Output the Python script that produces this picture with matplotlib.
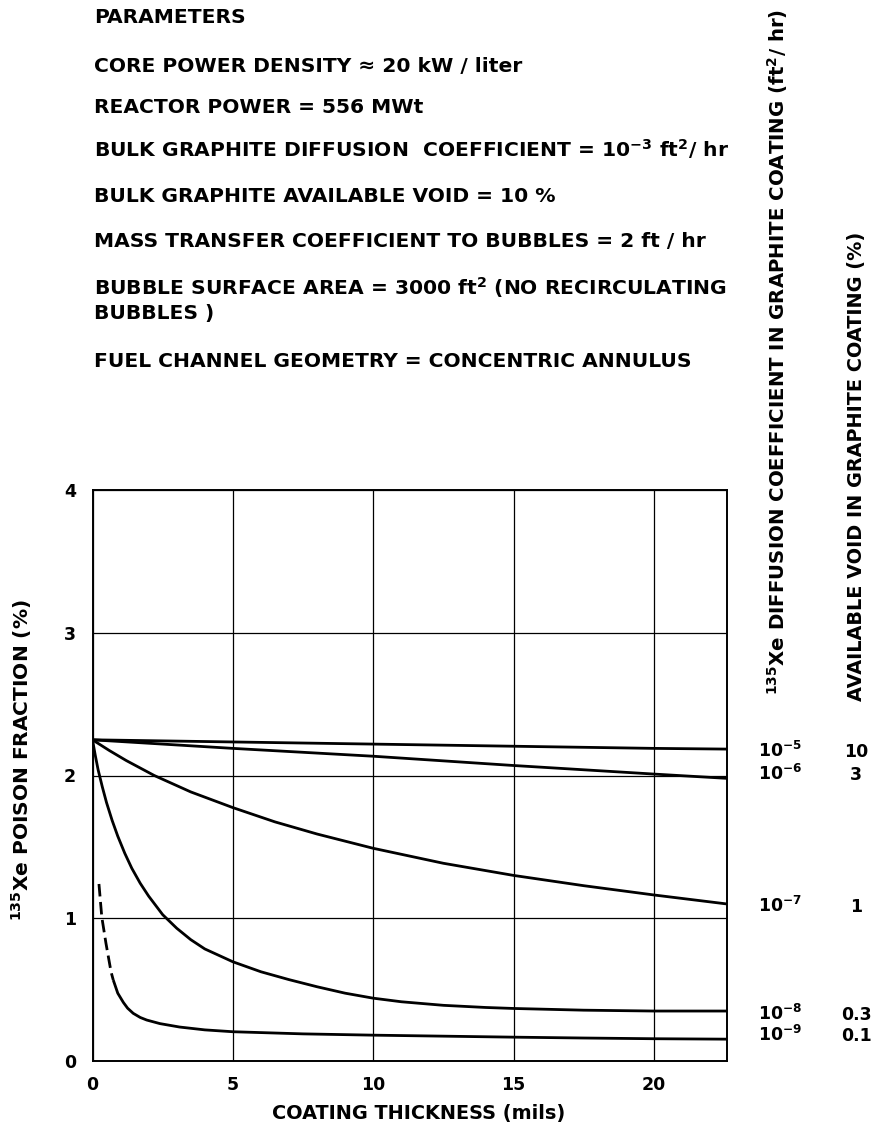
"""Xe-135 poison fraction versus graphite coating thickness."""
import matplotlib

matplotlib.use("Agg")
import matplotlib.pyplot as plt

W, H = 878, 1127

# curves all start from the uncoated value at 2.25 %
thick_d5 = [0, 5, 10, 15, 20, 22.6]
poison_d5 = [2.25, 2.235, 2.22, 2.205, 2.19, 2.185]

thick_d6 = [0, 5, 10, 15, 20, 22.6]
poison_d6 = [2.25, 2.19, 2.135, 2.07, 2.01, 1.98]

thick_d7 = [0, 0.6, 1.2, 2.2, 3.5, 5, 6.5, 8, 10, 12.5, 15, 17.5, 20, 22.6]
poison_d7 = [2.25, 2.175, 2.105, 2.0, 1.885, 1.775, 1.675, 1.59, 1.49, 1.385, 1.30, 1.228, 1.163, 1.10]

thick_d8 = [0, 0.1, 0.2, 0.35, 0.5, 0.7, 0.9, 1.15, 1.4, 1.7, 2.0, 2.5, 3.0, 3.5, 4.0,
            5.0, 6.0, 7.0, 8.0, 9.0, 10, 11, 12.5, 14, 15, 17.5, 20, 22.6]
poison_d8 = [2.25, 2.14, 2.04, 1.92, 1.81, 1.685, 1.575, 1.455, 1.35, 1.245, 1.155, 1.025, 0.93, 0.85, 0.785,
             0.695, 0.625, 0.57, 0.52, 0.475, 0.44, 0.415, 0.39, 0.375, 0.368, 0.356, 0.35, 0.35]

# 1e-9 curve: dashed (uncertain) near zero thickness, then solid
thick_d9_dash = [0.23, 0.33, 0.48, 0.66, 0.74]
poison_d9_dash = [1.24, 1.01, 0.824, 0.625, 0.567]
thick_d9 = [0.74, 0.9, 1.1, 1.25, 1.45, 1.7, 1.93, 2.4, 3.1, 4, 5, 7.5, 10, 12.5, 15, 17.5, 20, 22.6]
poison_d9 = [0.567, 0.475, 0.41, 0.37, 0.334, 0.305, 0.287, 0.262, 0.238, 0.218, 0.205, 0.19, 0.181,
             0.174, 0.167, 0.161, 0.156, 0.153]

diff_labels = [r"$10^{-5}$", r"$10^{-6}$", r"$10^{-7}$", r"$10^{-8}$", r"$10^{-9}$"]
void_labels = ["10", "3", "1", "0.3", "0.1"]
x_ticks = [0, 5, 10, 15, 20]
y_ticks = [0, 1, 2, 3, 4]

params = [
    "PARAMETERS",
    "CORE POWER DENSITY ≈ 20 kW / liter",
    "REACTOR POWER = 556 MWt",
    r"BULK GRAPHITE DIFFUSION  COEFFICIENT = 10$^{-3}$ ft$^{2}$/ hr",
    "BULK GRAPHITE AVAILABLE VOID = 10 %",
    "MASS TRANSFER COEFFICIENT TO BUBBLES = 2 ft / hr",
    r"BUBBLE SURFACE AREA = 3000 ft$^{2}$ (NO RECIRCULATING",
    "BUBBLES )",
    "FUEL CHANNEL GEOMETRY = CONCENTRIC ANNULUS",
]
param_baselines = [23, 72, 113, 157, 202, 247, 295, 319, 367]

plt.rcParams["font.family"] = ["DejaVu Sans"]
plt.rcParams["font.weight"] = "bold"
plt.rcParams["mathtext.default"] = "regular"


def fx(px):
    return px / W


def fy(py):
    return 1 - py / H


fig = plt.figure(figsize=(W / 100, H / 100), dpi=100)
fig.patch.set_facecolor("white")
ax = fig.add_axes([fx(92.5), fy(1061), (727 - 92.5) / W, (1061 - 490) / H])

ax.set_xlim(0, 22.6)
ax.set_ylim(0, 4)
ax.set_xticks(x_ticks)
ax.set_yticks(y_ticks)
ax.tick_params(length=0, labelsize=12.5)
ax.tick_params(axis="x", pad=11)
ax.tick_params(axis="y", pad=12)
ax.grid(True, color="black", lw=0.9)
for sp in ax.spines.values():
    sp.set_linewidth(1.4)

curve_kw = dict(color="black", lw=2.0, solid_capstyle="butt", solid_joinstyle="round")
ax.plot(thick_d5, poison_d5, **curve_kw)
ax.plot(thick_d6, poison_d6, **curve_kw)
ax.plot(thick_d7, poison_d7, **curve_kw)
ax.plot(thick_d8, poison_d8, **curve_kw)
ax.plot(thick_d9, poison_d9, **curve_kw)
ax.plot(thick_d9_dash, poison_d9_dash, color="black", lw=2.0, linestyle=(0, (4.5, 2)))

# labels at the right-hand end of each curve
ends = [poison_d5[-1], poison_d6[-1], poison_d7[-1], poison_d8[-1], poison_d9[-1]]
offsets = [-6, -1.5, -6, -6.5, -1]
for lab_d, lab_v, y_end, off in zip(diff_labels, void_labels, ends, offsets):
    ax.annotate(lab_d, xy=(1, y_end), xycoords=("axes fraction", "data"),
                xytext=(22, off), textcoords="offset points",
                ha="left", va="baseline", fontsize=12.5, annotation_clip=False)
    ax.annotate(lab_v, xy=(1, y_end), xycoords=("axes fraction", "data"),
                xytext=(93, off), textcoords="offset points",
                ha="center", va="baseline", fontsize=12.5, annotation_clip=False)

fig.text(fx(419), fy(1113), "COATING THICKNESS (mils)", ha="center", va="center", fontsize=13.9)
fig.text(fx(22), fy(760), r"$^{135}$Xe POISON FRACTION (%)", rotation=90,
         ha="center", va="center", fontsize=14.5)
fig.text(fx(778), fy(352), r"$^{135}$Xe DIFFUSION COEFFICIENT IN GRAPHITE COATING (ft$^{2}$/ hr)",
         rotation=90, ha="center", va="center", fontsize=14.2)
fig.text(fx(857), fy(466), "AVAILABLE VOID IN GRAPHITE COATING (%)",
         rotation=90, ha="center", va="center", fontsize=13.9)

for line, base in zip(params, param_baselines):
    fig.text(fx(94), fy(base), line, ha="left", va="baseline", fontsize=14.6)

fig.savefig("out.png", dpi=100, facecolor="white")
